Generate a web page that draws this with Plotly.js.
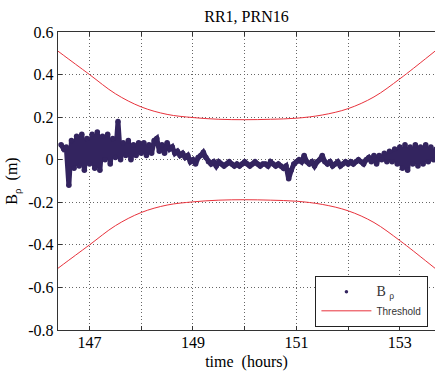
<!DOCTYPE html>
<html>
<head>
<meta charset="utf-8">
<script src="https://cdn.plot.ly/plotly-3.0.1.min.js"></script>
<style>html,body{margin:0;padding:0;background:#fff;}#chart{width:435px;height:376px;}</style>
</head>
<body>
<div id="chart"></div>
<script>
// B_rho samples, evenly spaced in time
const bStart = 146.45;
const bStep = 0.05;
const bRho = [
  0.07, 0.05, 0.06, -0.12, 0.09, -0.04, 0.11, -0.03, 0.12, -0.05,
  0.10, -0.02, 0.12, -0.04, 0.13, -0.05, 0.11, 0.00, 0.12, -0.02,
  0.10, 0.01, 0.18, 0.00, 0.08, 0.02, 0.09, 0.00, 0.07, 0.02,
  0.08, 0.03, 0.08, 0.02, 0.07, 0.03, 0.09, 0.10, 0.04, 0.07,
  0.03, 0.08, 0.05, 0.06, 0.03, 0.04, 0.02, 0.03, 0.01, 0.02,
  -0.01, 0.00, -0.02, 0.01, 0.02, 0.035, 0.01, -0.01, -0.02, -0.01,
  -0.03, -0.01, -0.02, -0.03, -0.02, -0.01, -0.02, -0.03, -0.02, -0.03,
  -0.02, -0.01, -0.02, -0.03, -0.02, -0.01, -0.02, -0.03, -0.02, -0.02,
  -0.03, -0.01, -0.02, -0.03, -0.02, -0.03, -0.04, -0.03, -0.09, -0.05,
  -0.02, -0.01, 0.00, -0.01, 0.02, -0.01, -0.02, -0.01, -0.03, -0.01,
  0.00, 0.02, -0.01, -0.02, -0.01, -0.03, -0.02, -0.01, -0.03, -0.02,
  -0.01, -0.02, -0.01, -0.02, -0.01, 0.00, -0.01, -0.02, 0.00, 0.01,
  -0.01, 0.02, -0.02, 0.02, 0.00, 0.03, -0.01, 0.04, -0.01, 0.05,
  -0.02, 0.06, -0.04, 0.07, -0.05, 0.06, -0.02, 0.07, -0.03, 0.06,
  -0.02, 0.07, -0.01, 0.06, 0.00, 0.05
];
const bTime = bRho.map((v, i) => +(bStart + i * bStep).toFixed(3));

// Threshold envelope (upper; lower is its mirror)
const thrTime = [146.39, 146.5, 147.0, 147.5, 148.0, 148.5, 149.0, 149.5, 150.0, 150.5, 151.0, 151.5, 152.0, 152.5, 153.0, 153.5, 153.68];
const thrUpper = [0.51, 0.49, 0.40, 0.31, 0.248, 0.213, 0.198, 0.19, 0.188, 0.19, 0.195, 0.21, 0.24, 0.295, 0.38, 0.475, 0.51];
const thrLower = thrUpper.map(v => -v);

const xTickVals = [147, 149, 151, 153];
const xTickText = ['147', '149', '151', '153'];
const yTickVals = [-0.8, -0.6, -0.4, -0.2, 0, 0.2, 0.4, 0.6];
const yTickText = ['-0.8', '-0.6', '-0.4', '-0.2', '0', '0.2', '0.4', '0.6'];

const navy = '#33245f';
const red = '#e8323c';
const serif = 'Liberation Serif, Times New Roman, serif';
const gridDash = '1px,2.5px';
const gridColor = '#666';

const traces = [
  {x: bTime, y: bRho, mode: 'lines+markers', line: {color: navy, width: 5, shape: 'linear'},
   marker: {color: navy, size: 5.5}, showlegend: false, hoverinfo: 'skip'},
  {x: thrTime, y: thrUpper, mode: 'lines', line: {color: red, width: 1, shape: 'spline'}, showlegend: false},
  {x: thrTime, y: thrLower, mode: 'lines', line: {color: red, width: 1, shape: 'spline'}, showlegend: false},
  {x: [null], y: [null], mode: 'markers', marker: {color: navy, size: 3.5}, name: '<span style="font-family:Liberation Serif;font-size:14px">B <sub>ρ</sub></span>'},
  {x: [null], y: [null], mode: 'lines', line: {color: red, width: 1}, name: 'Threshold'}
];

const layout = {
  width: 435, height: 376,
  margin: {l: 58, r: 0, t: 32, b: 46},
  paper_bgcolor: '#fff', plot_bgcolor: '#fff',
  font: {family: serif, size: 16, color: '#000'},
  title: {text: 'RR1, PRN16', font: {family: serif, size: 16, color: '#000'}, x: 0.5, xref: 'paper', y: 1 - 16/376, yref: 'container', yanchor: 'middle'},
  xaxis: {
    range: [146.39, 153.68], tickvals: xTickVals, ticktext: xTickText,
    showgrid: true, gridcolor: gridColor, griddash: gridDash, gridwidth: 1,
    minor: {tick0: 147, dtick: 1, showgrid: true, gridcolor: gridColor, griddash: gridDash, gridwidth: 1,
            ticks: 'inside', ticklen: 4, tickcolor: '#333'},
    showline: true, linecolor: '#333', linewidth: 1.3, mirror: 'ticks',
    ticks: 'inside', ticklen: 4, tickcolor: '#333', zeroline: false,
    tickfont: {family: serif, size: 16}, ticklabelstandoff: -3,
    title: {text: 'time  (hours)', font: {family: serif, size: 16}, standoff: 6}
  },
  yaxis: {
    range: [-0.8, 0.6], tickvals: yTickVals, ticktext: yTickText,
    showgrid: true, gridcolor: gridColor, griddash: gridDash, gridwidth: 1,
    showline: true, linecolor: '#333', linewidth: 1.3, mirror: false,
    ticks: 'inside', ticklen: 4, tickcolor: '#333', zeroline: false,
    tickfont: {family: serif, size: 16},
    title: {text: 'B<sub>ρ</sub>  (m)', font: {family: serif, size: 16}, standoff: 6}
  },
  legend: {
    x: 0.682, y: 0.01, xanchor: 'left', yanchor: 'bottom',
    bgcolor: '#fff', bordercolor: '#222', borderwidth: 1.3,
    font: {family: 'Liberation Sans, Arial, sans-serif', size: 10, color: '#333'},
    itemwidth: 50, tracegroupgap: 0
  },
  showlegend: true
};

Plotly.newPlot('chart', traces, layout, {displayModeBar: false, staticPlot: true});
</script>
</body>
</html>
